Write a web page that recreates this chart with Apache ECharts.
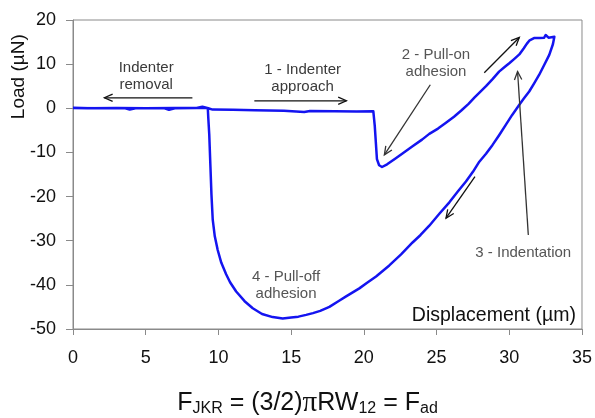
<!DOCTYPE html>
<html><head><meta charset="utf-8">
<script src="https://cdn.jsdelivr.net/npm/echarts@6/dist/echarts.min.js"></script>
<style>html,body{margin:0;padding:0;background:#fff}#c{width:595px;height:418px}</style>
</head><body><div id="c"></div>
<script>
// ---- data (displacement µm, load µN) ----
const xTicks = [0, 5, 10, 15, 20, 25, 30, 35];
const yTicks = [-50, -40, -30, -20, -10, 0, 10, 20];

const approach = [[0,0.05],[1.5,0],[3.6,0],[3.9,-0.3],[4.3,0],[6.3,0],[6.6,-0.35],[7,0],[8.5,0.05],[8.9,0.35],[9.3,0],[9.6,-0.3],[11,-0.35],[12.5,-0.45],[13.5,-0.5],[14.5,-0.55],[15.9,-0.85],[16.3,-0.6],[18,-0.65],[19.5,-0.7],[20.65,-0.65]];
const pullOn = [[20.75,-4],[20.9,-11.5],[21.05,-12.9],[21.25,-13.3],[21.6,-12.7],[22.2,-11.3],[22.8,-9.9],[23.35,-8.6],[24.0,-7.1],[24.5,-5.8],[25.1,-4.6],[25.6,-3.4],[26.2,-1.9],[26.7,-0.5],[27.2,1.0],[27.6,2.4],[28.0,3.7],[28.4,5.0],[28.85,6.6],[29.3,8.3],[29.7,9.4],[30.0,10.2],[30.35,11.2],[30.69,12.2],[31.0,13.6],[31.2,14.6],[31.4,15.4],[31.7,15.9],[32.06,15.9],[32.4,16.0],[32.5,16.6],[32.7,16.0],[33.1,16.2]];
const unloading = [[33.0,14.5],[32.75,12.1],[32.4,9.8],[32.06,7.6],[31.7,5.6],[31.37,3.8],[31.0,2.2],[30.69,0.8],[30.2,-1.5],[29.77,-3.7],[29.3,-6.1],[28.85,-8.3],[28.4,-10.3],[27.94,-12.1],[27.5,-14.4],[27.02,-16.6],[26.5,-18.7],[25.88,-21.3],[25.19,-23.9],[24.5,-26.6],[23.9,-28.7],[23.35,-30.4],[22.56,-33.1],[21.75,-35.6],[20.84,-38.1],[20.2,-39.6],[19.69,-40.8],[18.78,-42.6],[18.3,-43.6],[17.63,-45.0],[17.0,-45.9],[16.5,-46.4],[16.03,-46.8],[15.5,-47.2],[15.0,-47.4],[14.42,-47.6],[13.73,-47.3],[13.0,-46.6],[12.36,-45.3],[11.8,-43.7],[11.22,-41.5],[10.8,-39.4],[10.53,-37.6],[10.2,-35.0],[9.95,-32.1],[9.75,-29.0],[9.61,-25.3],[9.52,-19.5],[9.45,-13.2],[9.37,-6],[9.3,-2],[9.27,0]];
const removal = [[9.0,0.1],[7,0.05],[5,0.0],[3,0.05],[1,0.0],[0,0.05]];

// annotations (data units)
const arrowLines = [
  {from:[8.21,2.38], to:[2.16,2.38], color:'#111'},
  {from:[12.47,1.7], to:[18.8,1.7], color:'#111'},
  {from:[24.57,5.33], to:[21.41,-10.54], color:'#333'},
  {from:[28.28,8.05], to:[30.69,16.05], color:'#111'},
  {from:[31.31,-28.7], to:[30.57,8.34], color:'#333'},
  {from:[27.64,-15.46], to:[25.65,-24.9], color:'#111'}
];
const noteTexts = [
  {text:'Indenter\nremoval', at:[5.03,7.21], color:'#3a3a3a'},
  {text:'1 - Indenter\napproach', at:[15.79,6.76], color:'#3a3a3a'},
  {text:'2 - Pull-on\nadhesion', at:[24.96,10.2], color:'#555'},
  {text:'3 - Indentation', at:[30.96,-32.7], color:'#555'},
  {text:'4 - Pull-off\nadhesion', at:[14.65,-40.1], color:'#555'}
];
const xTitle = {text:'Displacement (\u00b5m)', at:[34.58,-47.05]};
const yTitle = 'Load (\u00b5N)';

const FONT = '"Liberation Sans", Arial, sans-serif';
const chart = echarts.init(document.getElementById('c'));
const curve = approach.concat(pullOn, unloading, removal);

chart.setOption({
  animation: false,
  backgroundColor: '#fff',
  grid: {left:73, right:12, top:20, bottom:89, show:true, borderColor:'#8a8a8a', borderWidth:1},
  xAxis: {
    type:'value', min:xTicks[0], max:xTicks[xTicks.length-1], interval:xTicks[1]-xTicks[0],
    axisLine:{show:true, onZero:false, lineStyle:{color:'#8a8a8a', width:1}},
    axisTick:{show:true, length:6, lineStyle:{color:'#8a8a8a'}},
    splitLine:{show:false},
    axisLabel:{fontSize:18, color:'#111', margin:20, fontFamily:FONT}
  },
  yAxis: {
    type:'value', min:yTicks[0], max:yTicks[yTicks.length-1], interval:yTicks[1]-yTicks[0],
    axisLine:{show:true, onZero:false, lineStyle:{color:'#8a8a8a', width:1}},
    axisTick:{show:true, length:7, lineStyle:{color:'#8a8a8a'}},
    splitLine:{show:false},
    axisLabel:{fontSize:18, color:'#111', margin:17, fontFamily:FONT}
  },
  series: [{
    type:'line', data:curve, showSymbol:false, smooth:false,
    lineStyle:{color:'#1414f0', width:2.5, join:'round'}, z:3
  }]
});

const px = p => chart.convertToPixel({gridIndex:0}, p);
const g = [];
arrowLines.forEach(a => {
  const p0 = px(a.from), p1 = px(a.to);
  const ang = Math.atan2(p1[1]-p0[1], p1[0]-p0[0]);
  const L = 9, h = 0.42;
  const l1 = [p1[0]-L*Math.cos(ang-h), p1[1]-L*Math.sin(ang-h)];
  const l2 = [p1[0]-L*Math.cos(ang+h), p1[1]-L*Math.sin(ang+h)];
  g.push({type:'line', shape:{x1:p0[0],y1:p0[1],x2:p1[0],y2:p1[1]}, style:{stroke:a.color, lineWidth:1.3}, z:10});
  g.push({type:'polyline', shape:{points:[l1,p1,l2]}, style:{stroke:a.color, lineWidth:1.3, fill:null}, z:10});
});
noteTexts.forEach(t => {
  const p = px(t.at);
  g.push({type:'text', x:p[0], y:p[1], z:11, style:{text:t.text, fill:t.color, font:'15px '+FONT, align:'center', verticalAlign:'middle', lineHeight:17}});
});
const pt = px(xTitle.at);
g.push({type:'text', x:pt[0], y:pt[1], z:11, style:{text:xTitle.text, fill:'#111', font:'19.5px '+FONT, align:'right', verticalAlign:'middle'}});
g.push({type:'text', x:19, y:76.7, rotation:Math.PI/2, z:11, style:{text:yTitle, fill:'#111', font:'19px '+FONT, align:'center', verticalAlign:'middle'}});
g.push({type:'text', x:307.5, y:403, z:11, style:{
  text:'{m|F}{s|JKR}{m| = (3/2)}{p|\u03c0}{m|RW}{s|12}{m| = F}{s|ad}',
  align:'center', verticalAlign:'middle', fill:'#111',
  rich:{
    m:{fontSize:25, fontFamily:FONT, fill:'#111'},
    s:{fontSize:16, fontFamily:FONT, fill:'#111', padding:[12,0,0,0]},
    p:{fontSize:29, fontFamily:'"Liberation Serif", "Times New Roman", serif', fill:'#111'}
  }
}});
chart.setOption({graphic:{elements:g}});
</script>
</body></html>
